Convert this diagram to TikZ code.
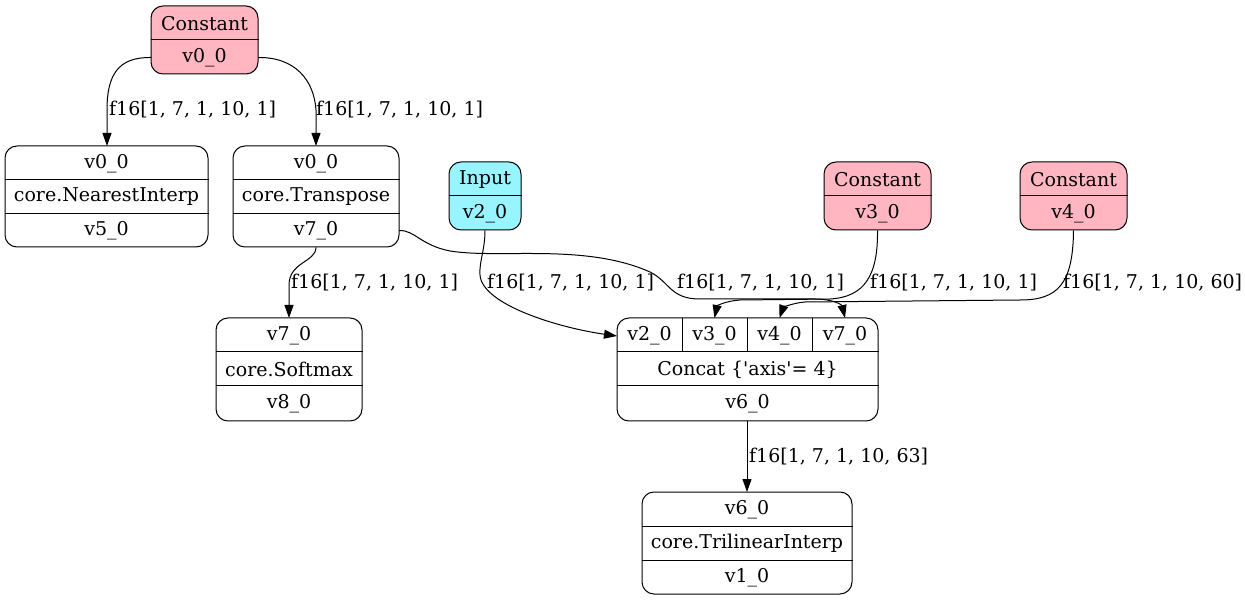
\documentclass[tikz,border=0pt]{standalone}
\usepackage{fontspec}
\setmainfont{DejaVu Serif}[Ligatures=TeXOff]
\usetikzlibrary{arrows.meta}
\definecolor{constfill}{HTML}{FFB6C1}
\definecolor{inputfill}{HTML}{98F5FF}
\newcommand{\recfont}{\fontsize{19}{23}\selectfont}

\tikzset{
  box/.style={draw=black, line width=1pt, rounded corners=12pt, inner sep=0pt},
  cell/.style={inner sep=0pt, outer sep=0pt, font=\recfont, anchor=center},
  sep/.style={line width=1pt},
  lbl/.style={anchor=west, inner sep=0pt, font=\recfont},
  link/.style={line width=1pt, -{Triangle[length=13pt,width=9pt]}},
}

\begin{document}
\begin{tikzpicture}[x=1pt, y=-1pt]
\useasboundingbox (0,0) rectangle (1245,601);

% ---- Constant v0_0
\node[box, fill=constfill, minimum width=107, minimum height=68] (c0) at (204.5,40) {};
\node[cell, minimum width=107, minimum height=34] (c0t) at (204.5,23.5) {Constant};
\node[cell, minimum width=107, minimum height=34] (c0o) at (204.5,57.5) {v0\_0};
\draw[sep] (c0.west |- 0,40) -- (c0.east |- 0,40);

% ---- core.NearestInterp
\node[box, minimum width=203, minimum height=101] (n5) at (106.5,196.5) {};
\node[cell, minimum width=203, minimum height=33.7] (n5t) at (106.5,163.5) {v0\_0};
\node[cell, minimum width=203, minimum height=33.7] (n5m) at (106.5,197) {core.NearestInterp};
\node[cell, minimum width=203, minimum height=33.7] (n5b) at (106.5,230.5) {v5\_0};
\draw[sep] (n5.west |- 0,179.5) -- (n5.east |- 0,179.5);
\draw[sep] (n5.west |- 0,213.5) -- (n5.east |- 0,213.5);

% ---- core.Transpose
\node[box, minimum width=166, minimum height=101] (t7) at (316,196.5) {};
\node[cell, minimum width=166, minimum height=33.7] (t7t) at (316,163.5) {v0\_0};
\node[cell, minimum width=166, minimum height=33.7] (t7m) at (316,197) {core.Transpose};
\node[cell, minimum width=166, minimum height=33.7] (t7b) at (316,230.5) {v7\_0};
\draw[sep] (t7.west |- 0,179.5) -- (t7.east |- 0,179.5);
\draw[sep] (t7.west |- 0,213.5) -- (t7.east |- 0,213.5);

% ---- Input v2_0
\node[box, fill=inputfill, minimum width=72, minimum height=68] (in2) at (485,196) {};
\node[cell, minimum width=72, minimum height=34] (in2t) at (485,179.5) {Input};
\node[cell, minimum width=72, minimum height=34] (in2o) at (485,213.5) {v2\_0};
\draw[sep] (in2.west |- 0,196) -- (in2.east |- 0,196);

% ---- Constant v3_0
\node[box, fill=constfill, minimum width=107, minimum height=68] (c3) at (877.5,196) {};
\node[cell, minimum width=107, minimum height=34] (c3t) at (877.5,179.5) {Constant};
\node[cell, minimum width=107, minimum height=34] (c3o) at (877.5,213.5) {v3\_0};
\draw[sep] (c3.west |- 0,196) -- (c3.east |- 0,196);

% ---- Constant v4_0
\node[box, fill=constfill, minimum width=107, minimum height=68] (c4) at (1073.5,196) {};
\node[cell, minimum width=107, minimum height=34] (c4t) at (1073.5,179.5) {Constant};
\node[cell, minimum width=107, minimum height=34] (c4o) at (1073.5,213.5) {v4\_0};
\draw[sep] (c4.west |- 0,196) -- (c4.east |- 0,196);

% ---- core.Softmax
\node[box, minimum width=146, minimum height=103] (s8) at (289,369.5) {};
\node[cell, minimum width=146, minimum height=34] (s8t) at (289,335.5) {v7\_0};
\node[cell, minimum width=146, minimum height=34] (s8m) at (289,369.5) {core.Softmax};
\node[cell, minimum width=146, minimum height=34] (s8b) at (289,404) {v8\_0};
\draw[sep] (s8.west |- 0,352) -- (s8.east |- 0,352);
\draw[sep] (s8.west |- 0,386) -- (s8.east |- 0,386);

% ---- Concat
\node[box, minimum width=261, minimum height=103] (cc6) at (747.5,369.5) {};
\node[cell, minimum width=65, minimum height=34] (p2) at (649.5,335.5) {v2\_0};
\node[cell, minimum width=65, minimum height=34] (p3) at (714.5,335.5) {v3\_0};
\node[cell, minimum width=65, minimum height=34] (p4) at (779.5,335.5) {v4\_0};
\node[cell, minimum width=66, minimum height=34] (p7) at (845,335.5) {v7\_0};
\node[cell, minimum width=261, minimum height=34] (cc6m) at (747.5,369.5) {Concat \{'axis'= 4\}};
\node[cell, minimum width=261, minimum height=34] (cc6b) at (747.5,404) {v6\_0};
\draw[sep] (cc6.west |- 0,352) -- (cc6.east |- 0,352);
\draw[sep] (cc6.west |- 0,386) -- (cc6.east |- 0,386);
\draw[sep] (682,318) -- (682,352);
\draw[sep] (747,318) -- (747,352);
\draw[sep] (812,318) -- (812,352);

% ---- core.TrilinearInterp
\node[box, minimum width=210, minimum height=102] (tr1) at (747,543) {};
\node[cell, minimum width=210, minimum height=34] (tr1t) at (747,509.5) {v6\_0};
\node[cell, minimum width=210, minimum height=34] (tr1m) at (747,543.5) {core.TrilinearInterp};
\node[cell, minimum width=210, minimum height=34] (tr1b) at (747,577.5) {v1\_0};
\draw[sep] (tr1.west |- 0,526) -- (tr1.east |- 0,526);
\draw[sep] (tr1.west |- 0,560) -- (tr1.east |- 0,560);

% ---- connectors
\draw[link] (c0o.west) .. controls (118,57) and (107,75) .. (107,110) -- (107,146);
\draw[link] (c0o.east) .. controls (295,57) and (314,80) .. (316,110) -- (316,146);
\draw[link] (t7b.south) .. controls (316,262) and (289,262) .. (289,285) -- (289,318);
\draw[link] (t7b.east) .. controls (415,230) and (420,245) .. (450,251)
  .. controls (500,259) and (585,243) .. (650,272)
  .. controls (670,282) and (670,299) .. (700,299) -- (815,299)
  .. controls (833,299) and (842,305) .. (845,318);
\draw[link] (in2o.south) .. controls (485,250) and (479,262) .. (480,275)
  .. controls (482,305) and (560,328) .. (617,336);
\draw[link] (c3o.south) .. controls (878,275) and (865,297) .. (830,299) -- (740,300)
  .. controls (725,301) and (717,306) .. (714.5,318);
\draw[link] (c4o.south) .. controls (1073,285) and (1057,300) .. (1020,300) -- (805,302)
  .. controls (792,303) and (783,308) .. (779.5,318);
\draw[link] (747,421) -- (747,492);

% ---- connector labels
\node[lbl] (l1) at (109,110) {f16[1, 7, 1, 10, 1]};
\node[lbl] (l2) at (316,110) {f16[1, 7, 1, 10, 1]};
\node[lbl] (l3) at (291,283) {f16[1, 7, 1, 10, 1]};
\node[lbl] (l5) at (487,283) {f16[1, 7, 1, 10, 1]};
\node[lbl] (l4) at (677,283) {f16[1, 7, 1, 10, 1]};
\node[lbl] (l6) at (870,283) {f16[1, 7, 1, 10, 1]};
\node[lbl] (l7) at (1063,283) {f16[1, 7, 1, 10, 60]};
\node[lbl] (l8) at (749,457) {f16[1, 7, 1, 10, 63]};
\end{tikzpicture}
\end{document}
